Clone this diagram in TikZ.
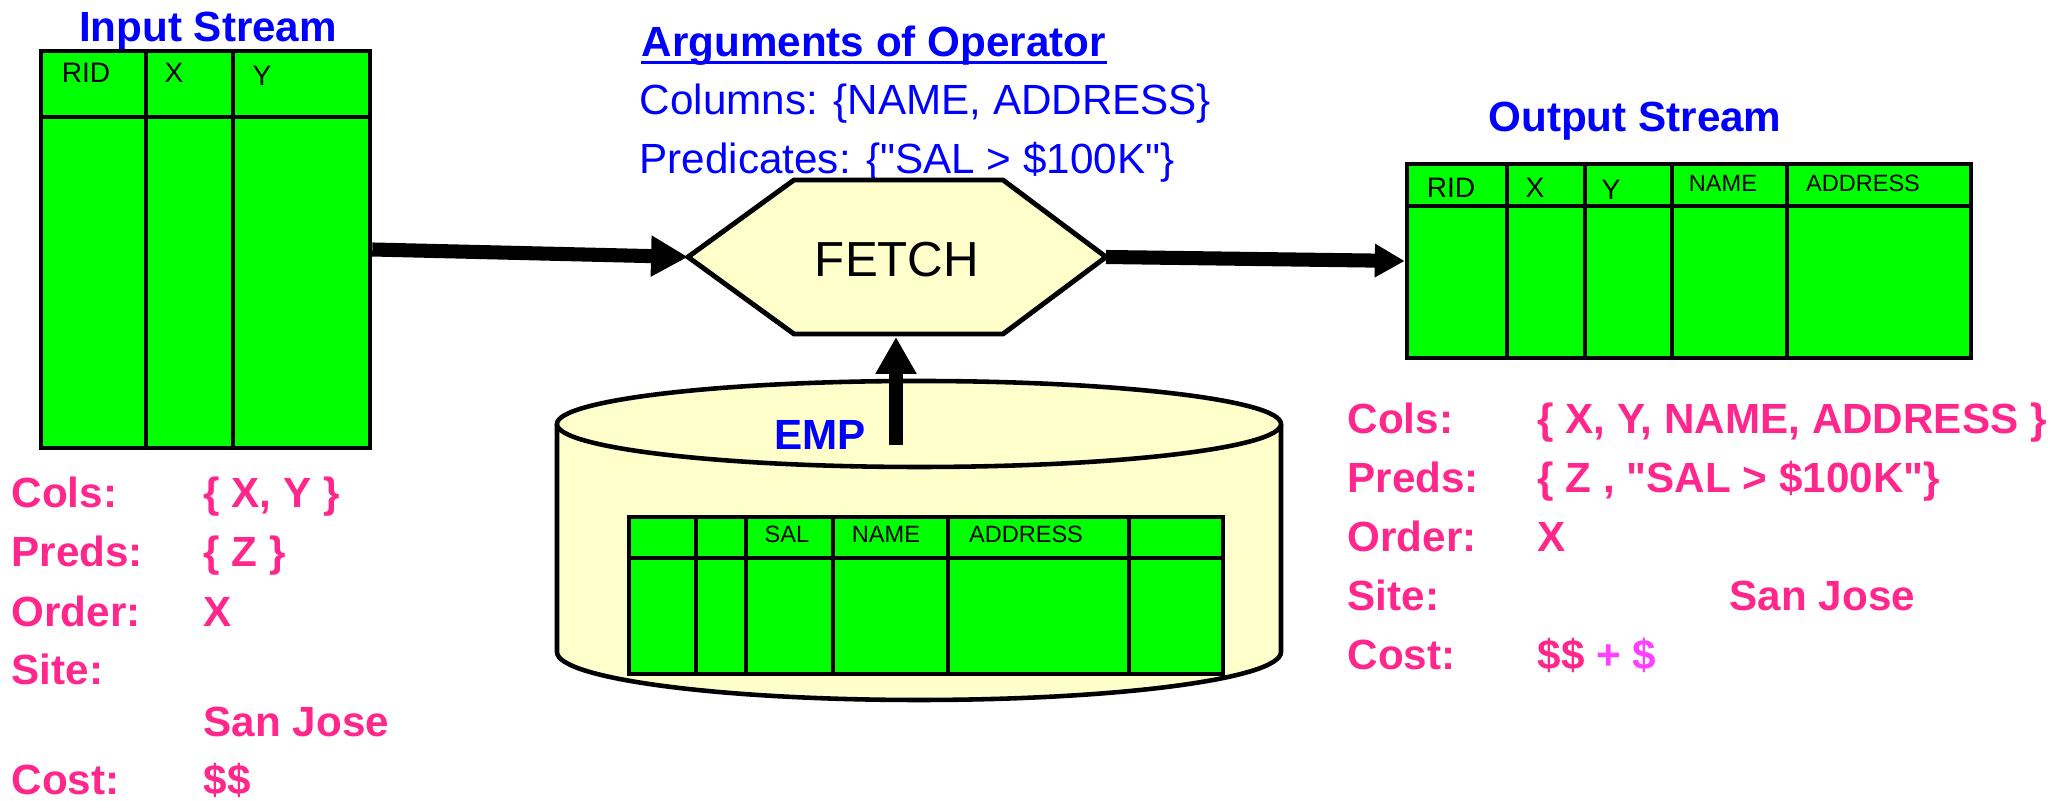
\documentclass[tikz,border=0pt]{standalone}
\usepackage{fontspec}
\setmainfont{Liberation Sans}
\newfontfamily\plainquote{Liberation Sans}
\newcommand\dq{{\plainquote\symbol{34}}}
\usetikzlibrary{arrows.meta,fit}

\definecolor{rowgreen}{RGB}{0,255,0}
\definecolor{paleyellow}{RGB}{255,255,204}
\definecolor{propink}{RGB}{255,38,140}
\definecolor{addmagenta}{RGB}{255,64,255}
\definecolor{titleblue}{RGB}{0,0,255}

\begin{document}
\begin{tikzpicture}[x=0.01cm, y=-0.01cm,
    tbl/.style={draw, fill=rowgreen, line width=1.3pt, inner sep=0pt},
    grid/.style={line width=1.3pt},
    hdr/.style={font=\fontsize{8}{9}\selectfont, inner sep=0pt, anchor=base},
    hdrsmall/.style={font=\fontsize{6.7}{8}\selectfont, inner sep=0pt, anchor=base},
    title/.style={font=\fontsize{12}{14}\selectfont\bfseries, text=titleblue, inner sep=0pt, anchor=base},
    args/.style={font=\fontsize{12}{14}\selectfont, text=titleblue, inner sep=0pt, anchor=base west},
    prop/.style={font=\fontsize{12}{14}\selectfont\bfseries, text=propink, inner sep=0pt, anchor=base west},
    hexa/.style={draw, fill=paleyellow, line width=1.4pt},
    drum/.style={draw, fill=paleyellow, line width=1.3pt},
    bigarrow/.style={line width=4pt, -{Triangle[length=10.5pt, width=11pt]}},
    outarrow/.style={line width=4pt, -{Triangle[length=8.5pt, width=9pt]}}]

    \useasboundingbox (0,0) rectangle (2059,801);

    % EMP relation on disk
    \filldraw[drum] (557,424) -- (557,652) arc[start angle=180, end angle=0, x radius=362, y radius=48] -- (1281,424);
    \draw[drum] (919,424) ellipse [x radius=362, y radius=43];
    \node[tbl, fit={(629,517) (1223,674)}] (emptab) {};
    \draw[grid] (629,558) -- (1223,558);
    \foreach \cx in {696,746,833,948,1129}
        \draw[grid] (\cx,517) -- (\cx,674);
    \node[hdrsmall] (sal) at (787,543) {SAL};
    \node[hdrsmall] (empname) at (886,543) {NAME};
    \node[hdrsmall] (empaddr) at (1026,543) {ADDRESS};
    \node[title] (emp) at (820,450) {EMP};
    \coordinate (empsrc) at (896,445);

    % input stream
    \node[title] (intitle) at (208,42) {Input Stream};
    \node[tbl, fit={(41,51) (370,448)}] (instream) {};
    \draw[grid] (41,117) -- (370,117);
    \foreach \cx in {146,233}
        \draw[grid] (\cx,51) -- (\cx,448);
    \node[hdr] (inrid) at (86,83) {RID};
    \node[hdr] (inx) at (174,83) {X};
    \node[hdr] (iny) at (262,86) {Y};

    % operator
    \node[args] (argtitle) at (641,57) {\bfseries Arguments of Operator};
    \draw[titleblue, line width=1pt] ([yshift=-1.5pt]argtitle.base west) -- ([yshift=-1.5pt]argtitle.base east);
    \node[args] (argcols) at (639,115) {Columns: \{NAME, ADDRESS\}};
    \node[args] (argpreds) at (639,174) {Predicates: \{\dq SAL > \$100K\dq\}};
    \coordinate (fetchW) at (688,257);
    \coordinate (fetchE) at (1106,257);
    \coordinate (fetchS) at (896,337);
    \draw[hexa] (fetchW) -- (794,180) -- (1003,180) -- (fetchE) -- (1003,334) -- (794,334) -- cycle;
    \node[font=\fontsize{14}{16}\selectfont, inner sep=0pt, anchor=base] (fetch) at (897,277) {FETCH};

    % output stream
    \node[title] (outtitle) at (1635,132) {Output Stream};
    \node[tbl, fit={(1407,164) (1971,358)}] (outstream) {};
    \draw[grid] (1407,206) -- (1971,206);
    \foreach \cx in {1507,1585,1672,1787}
        \draw[grid] (\cx,164) -- (\cx,358);
    \node[hdr] (outrid) at (1451,198) {RID};
    \node[hdr] (outx) at (1535,198) {X};
    \node[hdr] (outy) at (1611,200) {Y};
    \node[hdrsmall] (outname) at (1723,192) {NAME};
    \node[hdrsmall] (outaddr) at (1863,192) {ADDRESS};

    \draw[bigarrow] (instream.east) -- (fetchW);
    \draw[outarrow] (fetchE) -- (outstream.west);
    \draw[bigarrow] (empsrc) -- (fetchS);

    % properties of input
    \node[prop] (lcols) at (11,508) {Cols:};
    \node[prop] (lcolsv) at (203,508) {\{ X, Y \}};
    \node[prop] (lpreds) at (11,567) {Preds:};
    \node[prop] (lpredsv) at (203,567) {\{ Z \}};
    \node[prop] (lorder) at (11,627) {Order:};
    \node[prop] (lorderv) at (203,627) {X};
    \node[prop] (lsite) at (11,685) {Site:};
    \node[prop] (lsitev) at (203,737) {San Jose};
    \node[prop] (lcost) at (11,795) {Cost:};
    \node[prop] (lcostv) at (203,795) {\$\$};

    % properties of output
    \node[prop] (rcols) at (1347,434) {Cols:};
    \node[prop] (rcolsv) at (1537,434) {\{ X, Y, NAME, ADDRESS \}};
    \node[prop] (rpreds) at (1347,493) {Preds:};
    \node[prop] (rpredsv) at (1537,493) {\{ Z , \dq SAL > \$100K\dq\}};
    \node[prop] (rorder) at (1347,552) {Order:};
    \node[prop] (rorderv) at (1537,552) {X};
    \node[prop] (rsite) at (1347,611) {Site:};
    \node[prop] (rsitev) at (1729,611) {San Jose};
    \node[prop] (rcost) at (1347,670) {Cost:};
    \node[prop] (rcostv) at (1537,670) {\$\$ \textcolor{addmagenta}{+ \$}};
\end{tikzpicture}
\end{document}
